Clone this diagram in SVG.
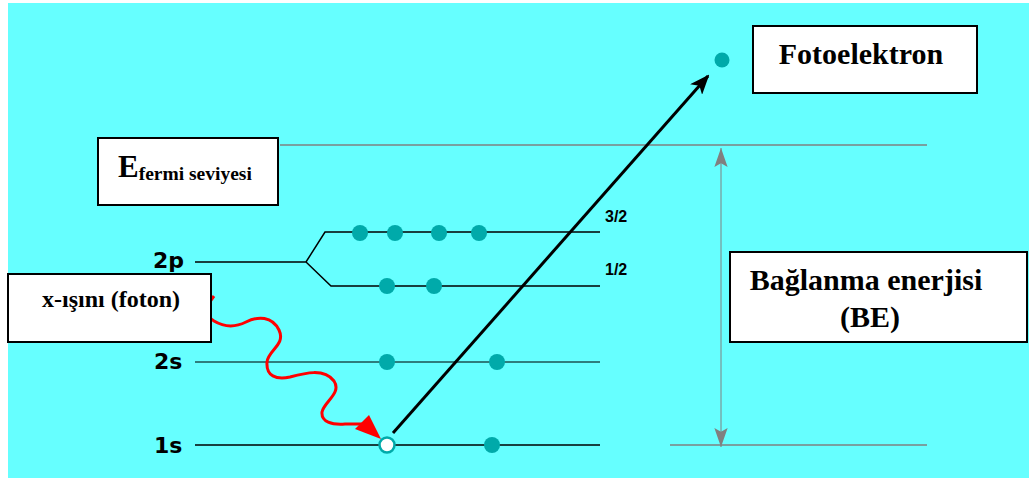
<svg xmlns="http://www.w3.org/2000/svg" width="1029" height="481" viewBox="0 0 1029 481">
<defs>
<style>
.box{fill:#fff;stroke:#000;stroke-width:2}
.serif{font-family:"Liberation Serif","Times New Roman",serif;font-weight:bold;fill:#000}
.sans{font-family:"DejaVu Sans",Verdana,sans-serif;font-weight:bold;fill:#000}
.frac{font-family:"Liberation Sans",Arial,sans-serif;font-weight:bold;fill:#000;font-size:16px}
.lvl{stroke:#000;stroke-width:1.5;fill:none}
.gray{stroke:#808080;stroke-width:1.5;fill:none}
.e{fill:#00AAAA}
</style>
<marker id="ablk" viewBox="0 0 20 16" refX="18" refY="8" markerWidth="20" markerHeight="16" markerUnits="userSpaceOnUse" orient="auto">
<path d="M0,0 L20,8 L0,16 L5,8 Z" fill="#000"/>
</marker>
<marker id="agray" viewBox="0 0 20 14" refX="20" refY="7" markerWidth="19" markerHeight="14" markerUnits="userSpaceOnUse" orient="auto">
<path d="M0,0 L20,7 L0,14 L4,7 Z" fill="#808080"/>
</marker>
</defs>
<rect x="8" y="3" width="1021" height="475" fill="#66FFFF"/>
<g id="levels">
<line class="gray" x1="280" y1="145" x2="927" y2="145"/>
<line class="gray" x1="670" y1="445" x2="927" y2="445"/>
<path class="lvl" d="M195,262 L306,262 L325,232 L600,232 M306,262 L331,286 L600,286"/>
<line x1="195" y1="362" x2="600" y2="362" stroke="#2E7D7D" stroke-width="2"/>
<line class="lvl" x1="195" y1="445" x2="600" y2="445"/>
</g>
<g id="labels">
<text class="sans" x="153" y="268" font-size="22">2p</text>
<text class="sans" x="154" y="369" font-size="22">2s</text>
<text class="sans" x="154" y="453" font-size="22">1s</text>
<text class="frac" x="605" y="222">3/2</text>
<text class="frac" x="605" y="275">1/2</text>
</g>
<g id="electrons">
<circle class="e" cx="360" cy="233" r="8"/>
<circle class="e" cx="395" cy="233" r="8"/>
<circle class="e" cx="439" cy="233" r="8"/>
<circle class="e" cx="479" cy="233" r="8"/>
<circle class="e" cx="387" cy="286" r="8"/>
<circle class="e" cx="434" cy="286" r="8"/>
<circle class="e" cx="387" cy="362" r="8"/>
<circle class="e" cx="497" cy="362" r="8"/>
<circle class="e" cx="492" cy="445" r="8"/>
<circle class="e" cx="722" cy="60" r="7.5"/>
</g>
<g id="connectors">
<line x1="393" y1="433" x2="708" y2="76" stroke="#000" stroke-width="3" marker-end="url(#ablk)"/>
<line x1="721" y1="300" x2="721" y2="148" stroke="#808080" stroke-width="1" marker-end="url(#agray)"/>
<line x1="721" y1="300" x2="721" y2="447" stroke="#808080" stroke-width="1" marker-end="url(#agray)"/>
<path d="M214,296 C206,306 205,316 214,321 C224,327 234,328 246,322 C258,316 272,316 279,330 C286,345 268,350 267,362 C266,376 276,380 290,377 C305,373 324,368 334,381 C342,393 324,402 322,412 C321,422 332,425 345,424 L362,424" fill="none" stroke="#FF0000" stroke-width="3"/>
<path d="M355,429 L369,415 L381,439 Z" fill="#FF0000"/>
</g>
<g id="hole">
<circle cx="387" cy="445" r="7.5" fill="#fff" stroke="#00AAAA" stroke-width="2.5"/>
</g>
<g id="fermi">
<rect class="box" x="98" y="138" width="180" height="67"/>
<text class="serif" x="118" y="177" font-size="31">E<tspan font-size="19.5" dy="3">fermi seviyesi</tspan></text>
</g>
<g id="foton">
<rect class="box" x="8" y="274" width="203" height="68"/>
<text class="serif" x="111" y="307" font-size="24" text-anchor="middle">x-ışını (foton)</text>
</g>
<g id="fotoelektron">
<rect class="box" x="753" y="26" width="224" height="67"/>
<text class="serif" x="861" y="64" font-size="30" text-anchor="middle">Fotoelektron</text>
</g>
<g id="be">
<rect class="box" x="730" y="252" width="297" height="90"/>
<text class="serif" x="866" y="290" font-size="30" text-anchor="middle">Bağlanma enerjisi</text>
<text class="serif" x="870" y="327" font-size="30" text-anchor="middle">(BE)</text>
</g>
</svg>
